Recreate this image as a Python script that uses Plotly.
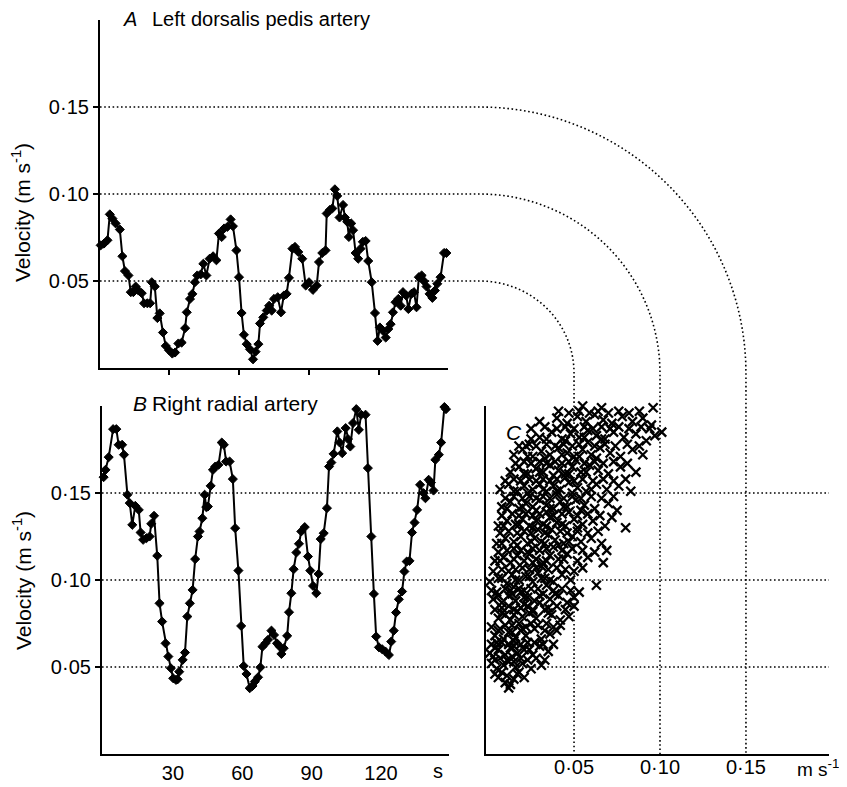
import numpy as np
import plotly.graph_objects as go

W, H = 847, 787

# ---------------- data ----------------
time_a = [0.7, 2.1, 3.6, 4.6, 5.7, 7.1, 8.9, 10.0, 11.1, 12.6,
          13.6, 14.7, 15.7, 16.9, 18.3, 19.3, 20.7, 21.9, 22.6, 23.9,
          25.0, 26.0, 27.4, 28.6, 30.0, 31.4, 32.6, 34.0, 35.4, 36.9,
          37.6, 39.0, 40.0, 41.1, 42.1, 43.6, 44.7, 46.0, 47.4, 48.9,
          50.3, 51.4, 52.6, 53.6, 55.0, 56.4, 57.4, 58.9, 60.0, 61.1,
          62.1, 63.3, 64.7, 66.0, 67.1, 68.3, 69.0, 70.4, 71.9, 72.9,
          74.0, 75.0, 76.6, 78.0, 79.2, 80.4, 81.4, 82.9, 84.0, 85.4,
          87.1, 88.6, 90.0, 91.7, 93.3, 94.3, 95.7, 97.1, 97.6, 98.9,
          100.0, 101.1, 102.1, 103.1, 104.6, 105.4, 106.4, 107.1, 108.1, 108.9,
          110.0, 111.1, 112.1, 113.1, 114.3, 115.4, 116.9, 118.3, 119.4, 120.4,
          121.7, 122.9, 124.0, 125.0, 126.0, 127.1, 128.3, 129.3, 130.3, 131.7,
          132.6, 133.9, 135.0, 136.1, 137.1, 138.3, 139.3, 140.4, 141.7, 142.9,
          144.0, 145.0, 146.4, 147.9, 148.9]
vel_a = [0.0705, 0.0715, 0.0734, 0.0883, 0.0859, 0.0831, 0.0796, 0.0642, 0.0557, 0.0532,
         0.0436, 0.0436, 0.0468, 0.0445, 0.0430, 0.0372, 0.0372, 0.0372, 0.0493, 0.0468,
         0.0287, 0.0314, 0.0204, 0.0127, 0.0102, 0.0083, 0.0089, 0.0141, 0.0146, 0.0229,
         0.0320, 0.0397, 0.0426, 0.0493, 0.0532, 0.0538, 0.0599, 0.0532, 0.0628, 0.0642,
         0.0619, 0.0773, 0.0753, 0.0802, 0.0811, 0.0854, 0.0815, 0.0676, 0.0522, 0.0316,
         0.0191, 0.0137, 0.0108, 0.0050, 0.0094, 0.0137, 0.0256, 0.0291, 0.0330, 0.0358,
         0.0330, 0.0397, 0.0407, 0.0320, 0.0416, 0.0426, 0.0518, 0.0686, 0.0696, 0.0667,
         0.0628, 0.0474, 0.0493, 0.0449, 0.0474, 0.0609, 0.0661, 0.0676, 0.0888, 0.0908,
         0.0917, 0.1027, 0.0989, 0.0865, 0.0937, 0.0865, 0.0840, 0.0753, 0.0831, 0.0792,
         0.0661, 0.0628, 0.0686, 0.0725, 0.0730, 0.0615, 0.0493, 0.0316, 0.0156, 0.0233,
         0.0214, 0.0175, 0.0224, 0.0252, 0.0320, 0.0378, 0.0397, 0.0358, 0.0436, 0.0416,
         0.0339, 0.0426, 0.0436, 0.0349, 0.0522, 0.0532, 0.0499, 0.0468, 0.0426, 0.0403,
         0.0445, 0.0484, 0.0522, 0.0661, 0.0661]

time_b = [0.0, 0.8, 2.2, 4.1, 5.5, 6.5, 8.0, 8.8, 10.3, 11.3,
          12.4, 13.7, 15.2, 16.0, 17.1, 18.5, 19.9, 20.6, 21.8, 23.2,
          24.2, 25.3, 26.8, 28.0, 29.1, 30.1, 31.3, 32.0, 32.7, 34.2,
          35.2, 36.2, 37.3, 38.5, 39.6, 40.8, 41.5, 42.7, 43.7, 44.4,
          45.1, 46.3, 47.3, 48.3, 49.7, 51.1, 52.0, 53.0, 54.5, 55.9,
          56.9, 58.3, 59.5, 60.6, 61.8, 63.2, 64.4, 65.4, 66.8, 67.8,
          68.7, 70.0, 71.1, 72.6, 73.7, 75.0, 76.2, 76.9, 77.9, 79.4,
          80.2, 81.2, 82.2, 83.4, 84.5, 85.5, 87.0, 88.4, 89.4, 90.6,
          92.0, 93.0, 93.9, 95.2, 96.6, 97.5, 98.5, 99.5, 101.1, 102.1,
          103.2, 104.7, 105.7, 106.7, 107.9, 109.3, 110.4, 111.4, 113.3, 114.3,
          115.8, 116.9, 117.9, 119.1, 120.5, 121.9, 123.4, 124.4, 125.5, 126.5,
          127.7, 129.1, 130.1, 131.1, 132.3, 133.4, 134.5, 135.6, 136.9, 138.4,
          139.2, 140.6, 141.6, 142.7, 143.5, 145.0, 146.0, 147.4, 148.1]
vel_b = [0.1591, 0.1633, 0.1706, 0.1867, 0.1867, 0.1777, 0.1777, 0.1720, 0.1490, 0.1442,
         0.1317, 0.1426, 0.1403, 0.1273, 0.1231, 0.1240, 0.1250, 0.1323, 0.1369, 0.1139,
         0.0866, 0.0761, 0.0636, 0.0560, 0.0493, 0.0435, 0.0426, 0.0429, 0.0473, 0.0541,
         0.0583, 0.0790, 0.0866, 0.0943, 0.1120, 0.1250, 0.1279, 0.1355, 0.1490, 0.1419,
         0.1422, 0.1541, 0.1633, 0.1652, 0.1662, 0.1790, 0.1777, 0.1681, 0.1681, 0.1580,
         0.1298, 0.1054, 0.0736, 0.0506, 0.0460, 0.0378, 0.0391, 0.0416, 0.0441, 0.0498,
         0.0617, 0.0636, 0.0656, 0.0709, 0.0684, 0.0636, 0.0617, 0.0575, 0.0608, 0.0679,
         0.0815, 0.0924, 0.1062, 0.1158, 0.1208, 0.1279, 0.1304, 0.1135, 0.1054, 0.0966,
         0.0924, 0.1035, 0.1235, 0.1269, 0.1413, 0.1652, 0.1675, 0.1725, 0.1854, 0.1790,
         0.1729, 0.1873, 0.1810, 0.1767, 0.1902, 0.1982, 0.1863, 0.1950, 0.1950, 0.1643,
         0.1250, 0.0920, 0.0675, 0.0613, 0.0602, 0.0589, 0.0569, 0.0646, 0.0709, 0.0813,
         0.0889, 0.0934, 0.1049, 0.1106, 0.1110, 0.1273, 0.1330, 0.1403, 0.1547, 0.1499,
         0.1470, 0.1576, 0.1560, 0.1514, 0.1691, 0.1720, 0.1790, 0.1994, 0.1982]

# scatter C: dorsalis pedis velocity (x) against radial velocity (y), read row by row
scatter_x = [0.010, 0.013, 0.006, 0.015, 0.008,
             0.002, 0.005, 0.009, 0.012, 0.016, 0.020, 0.025, 0.031, 0.003, 0.014, 0.018,
             0.001, 0.006, 0.010, 0.013, 0.017, 0.021, 0.026, 0.030, 0.035, 0.008, 0.023,
             0.004, 0.009, 0.012, 0.016, 0.019, 0.022, 0.027, 0.031, 0.036, 0.040, 0.014, 0.025,
             0.006, 0.010, 0.013, 0.017, 0.020, 0.024, 0.028, 0.033, 0.037, 0.042, 0.047, 0.021, 0.030,
             0.003, 0.008, 0.012, 0.016, 0.019, 0.023, 0.027, 0.032, 0.036, 0.041, 0.046, 0.050, 0.015, 0.025, 0.034,
             0.001, 0.006, 0.011, 0.014, 0.018, 0.022, 0.026, 0.029, 0.033, 0.038, 0.043, 0.048, 0.063, 0.020, 0.031, 0.040,
             0.004, 0.009, 0.013, 0.017, 0.021, 0.024, 0.028, 0.032, 0.036, 0.041, 0.046, 0.052, 0.058, 0.067, 0.069, 0.026, 0.038,
             0.005, 0.010, 0.015, 0.019, 0.023, 0.027, 0.031, 0.035, 0.039, 0.044, 0.049, 0.054, 0.060, 0.066, 0.029, 0.042,
             0.006, 0.011, 0.016, 0.020, 0.024, 0.028, 0.032, 0.036, 0.040, 0.045, 0.050, 0.055, 0.061, 0.068, 0.080, 0.034, 0.047,
             0.008, 0.013, 0.018, 0.022, 0.026, 0.030, 0.034, 0.038, 0.042, 0.046, 0.051, 0.056, 0.062, 0.070, 0.075, 0.040,
             0.007, 0.012, 0.017, 0.021, 0.026, 0.030, 0.034, 0.038, 0.042, 0.047, 0.052, 0.057, 0.063, 0.069, 0.076, 0.083, 0.045,
             0.013, 0.018, 0.023, 0.028, 0.032, 0.036, 0.041, 0.045, 0.049, 0.054, 0.059, 0.064, 0.070, 0.077, 0.086, 0.051,
             0.015, 0.020, 0.026, 0.031, 0.036, 0.041, 0.046, 0.050, 0.055, 0.060, 0.065, 0.071, 0.077, 0.084, 0.090, 0.058,
             0.025, 0.022, 0.030, 0.037, 0.043, 0.048, 0.053, 0.058, 0.063, 0.068, 0.073, 0.079, 0.086, 0.092, 0.097, 0.101,
             0.030, 0.040, 0.046, 0.052, 0.057, 0.062, 0.067, 0.072, 0.078, 0.084, 0.090, 0.095,
             0.044, 0.050, 0.055, 0.060, 0.066, 0.072, 0.079, 0.085, 0.090, 0.096,
             0.046, 0.052, 0.058, 0.063, 0.068, 0.075,
             # second pass, rows in between
             0.004, 0.011, 0.017, 0.021, 0.012,
             0.004, 0.007, 0.011, 0.015, 0.019, 0.023, 0.028, 0.033,
             0.002, 0.005, 0.012, 0.015, 0.019, 0.027, 0.032, 0.038,
             0.002, 0.007, 0.010, 0.018, 0.022, 0.029, 0.034, 0.038, 0.042,
             0.004, 0.008, 0.012, 0.015, 0.019, 0.023, 0.026, 0.035, 0.040, 0.045, 0.050,
             0.002, 0.005, 0.010, 0.013, 0.018, 0.021, 0.029, 0.038, 0.043, 0.048, 0.053,
             0.003, 0.008, 0.012, 0.016, 0.024, 0.028, 0.035, 0.045, 0.050, 0.055,
             0.006, 0.011, 0.015, 0.019, 0.023, 0.030, 0.034, 0.043, 0.049, 0.055, 0.062,
             0.007, 0.012, 0.017, 0.021, 0.025, 0.033, 0.037, 0.046, 0.052, 0.058, 0.064,
             0.008, 0.014, 0.018, 0.022, 0.026, 0.030, 0.038, 0.043, 0.052, 0.058, 0.065, 0.072,
             0.010, 0.015, 0.020, 0.024, 0.028, 0.032, 0.036, 0.044, 0.049, 0.054, 0.060, 0.066, 0.073,
             0.010, 0.015, 0.019, 0.024, 0.028, 0.032, 0.036, 0.040, 0.050, 0.055, 0.061, 0.067, 0.073, 0.080,
             0.016, 0.021, 0.025, 0.030, 0.034, 0.039, 0.043, 0.047, 0.056, 0.062, 0.067, 0.073, 0.081,
             0.018, 0.024, 0.028, 0.034, 0.039, 0.044, 0.049, 0.053, 0.062, 0.068, 0.074, 0.081, 0.088,
             0.025, 0.033, 0.040, 0.045, 0.050, 0.056, 0.061, 0.066, 0.071, 0.076, 0.082, 0.089, 0.094,
             0.041, 0.047, 0.053, 0.059, 0.064, 0.070, 0.076, 0.082, 0.088,
             0.048, 0.054, 0.061, 0.071, 0.083,
             # third pass, dense core of the cloud
             0.004, 0.015, 0.024,
             0.006, 0.014, 0.020, 0.033,
             0.008, 0.015, 0.026, 0.035,
             0.006, 0.014, 0.021, 0.030, 0.039,
             0.008, 0.016, 0.024, 0.031, 0.036,
             0.007, 0.015, 0.026, 0.034, 0.044,
             0.008, 0.017, 0.025, 0.033, 0.041, 0.047,
             0.009, 0.018, 0.026, 0.034, 0.043, 0.052,
             0.011, 0.020, 0.028, 0.036, 0.044, 0.054,
             0.015, 0.023, 0.032, 0.040, 0.049, 0.060,
             0.021, 0.030, 0.038, 0.047, 0.057,
             0.023, 0.033, 0.043, 0.053, 0.063,
             0.034, 0.045, 0.056, 0.066]
scatter_y = [0.041, 0.040, 0.044, 0.043, 0.047,
             0.052, 0.049, 0.051, 0.053, 0.050, 0.052, 0.049, 0.051, 0.056, 0.056, 0.047,
             0.058, 0.060, 0.057, 0.061, 0.058, 0.060, 0.057, 0.062, 0.059, 0.064, 0.064,
             0.068, 0.066, 0.070, 0.067, 0.071, 0.068, 0.072, 0.066, 0.069, 0.071, 0.074, 0.075,
             0.078, 0.080, 0.077, 0.082, 0.079, 0.081, 0.078, 0.083, 0.080, 0.077, 0.079, 0.086, 0.087,
             0.089, 0.087, 0.091, 0.088, 0.093, 0.090, 0.088, 0.092, 0.089, 0.091, 0.087, 0.090, 0.096, 0.095, 0.097,
             0.099, 0.101, 0.098, 0.103, 0.100, 0.102, 0.099, 0.104, 0.101, 0.099, 0.103, 0.100, 0.097, 0.107, 0.108, 0.107,
             0.111, 0.113, 0.110, 0.114, 0.111, 0.115, 0.112, 0.110, 0.114, 0.112, 0.115, 0.111, 0.113, 0.110, 0.117, 0.118, 0.119,
             0.121, 0.124, 0.122, 0.125, 0.121, 0.124, 0.122, 0.126, 0.123, 0.121, 0.125, 0.122, 0.124, 0.121, 0.129, 0.128,
             0.131, 0.134, 0.132, 0.135, 0.131, 0.134, 0.132, 0.136, 0.133, 0.131, 0.135, 0.132, 0.134, 0.131, 0.130, 0.139, 0.139,
             0.142, 0.145, 0.141, 0.144, 0.142, 0.146, 0.143, 0.141, 0.145, 0.142, 0.146, 0.143, 0.141, 0.144, 0.140, 0.149,
             0.152, 0.155, 0.151, 0.154, 0.152, 0.155, 0.151, 0.154, 0.152, 0.156, 0.153, 0.151, 0.155, 0.152, 0.154, 0.151, 0.159,
             0.162, 0.165, 0.161, 0.164, 0.162, 0.166, 0.163, 0.161, 0.165, 0.162, 0.166, 0.163, 0.161, 0.165, 0.162, 0.169,
             0.172, 0.175, 0.171, 0.174, 0.172, 0.176, 0.173, 0.171, 0.175, 0.172, 0.176, 0.173, 0.171, 0.175, 0.172, 0.179,
             0.181, 0.177, 0.182, 0.185, 0.181, 0.184, 0.182, 0.186, 0.183, 0.181, 0.185, 0.182, 0.184, 0.180, 0.183, 0.185,
             0.191, 0.193, 0.190, 0.194, 0.191, 0.195, 0.192, 0.190, 0.194, 0.191, 0.193, 0.189,
             0.201, 0.204, 0.200, 0.203, 0.199, 0.202, 0.205, 0.201, 0.204, 0.199,
             0.208, 0.211, 0.209, 0.213, 0.210, 0.207,
             # second pass, rows in between
             0.046, 0.045, 0.046, 0.044, 0.038,
             0.054, 0.055, 0.054, 0.053, 0.055, 0.054, 0.055, 0.054,
             0.063, 0.064, 0.063, 0.065, 0.063, 0.064, 0.063, 0.063,
             0.073, 0.072, 0.074, 0.075, 0.073, 0.074, 0.075, 0.073, 0.074,
             0.083, 0.084, 0.085, 0.083, 0.084, 0.085, 0.083, 0.084, 0.085, 0.083, 0.085,
             0.094, 0.093, 0.095, 0.094, 0.095, 0.094, 0.095, 0.094, 0.095, 0.094, 0.093,
             0.105, 0.106, 0.105, 0.106, 0.106, 0.107, 0.106, 0.106, 0.105, 0.107,
             0.116, 0.117, 0.118, 0.117, 0.116, 0.117, 0.118, 0.117, 0.118, 0.117, 0.116,
             0.127, 0.128, 0.127, 0.128, 0.127, 0.127, 0.129, 0.127, 0.128, 0.127, 0.128,
             0.137, 0.138, 0.137, 0.138, 0.137, 0.138, 0.137, 0.138, 0.137, 0.138, 0.137, 0.136,
             0.147, 0.148, 0.147, 0.148, 0.147, 0.148, 0.147, 0.147, 0.148, 0.147, 0.148, 0.147, 0.148,
             0.157, 0.158, 0.157, 0.158, 0.157, 0.158, 0.157, 0.158, 0.157, 0.158, 0.157, 0.158, 0.157, 0.158,
             0.167, 0.168, 0.167, 0.168, 0.167, 0.168, 0.167, 0.168, 0.167, 0.168, 0.167, 0.168, 0.167,
             0.177, 0.178, 0.177, 0.178, 0.177, 0.178, 0.177, 0.178, 0.177, 0.178, 0.177, 0.178, 0.177,
             0.187, 0.188, 0.187, 0.188, 0.187, 0.188, 0.187, 0.188, 0.187, 0.188, 0.187, 0.188, 0.187,
             0.197, 0.196, 0.197, 0.196, 0.197, 0.196, 0.197, 0.196, 0.197,
             0.206, 0.207, 0.206, 0.206, 0.207,
             # third pass, dense core of the cloud
             0.061, 0.062, 0.060,
             0.071, 0.070, 0.072, 0.071,
             0.081, 0.080, 0.082, 0.081,
             0.091, 0.092, 0.090, 0.091, 0.092,
             0.101, 0.100, 0.102, 0.101, 0.100,
             0.111, 0.112, 0.110, 0.111, 0.112,
             0.121, 0.120, 0.122, 0.121, 0.120, 0.122,
             0.131, 0.132, 0.130, 0.131, 0.132, 0.130,
             0.141, 0.142, 0.140, 0.141, 0.142, 0.140,
             0.151, 0.150, 0.152, 0.151, 0.150, 0.152,
             0.161, 0.162, 0.160, 0.161, 0.162,
             0.171, 0.170, 0.172, 0.171, 0.170,
             0.181, 0.180, 0.182, 0.181]

grid_levels = [0.05, 0.10, 0.15]
vel_tick_text = ["0·05", "0·10", "0·15"]
time_ticks = [30, 60, 90, 120]
time_tick_text = ["30", "60", "90", "120"]

# ---------------- layout geometry (page pixels) ----------------
OFF = 8                      # page body margin of the html document
FW, FH = W - OFF, H - OFF    # figure size so that it ends at the window edge
A_L, A_R, A_T, A_B = 100, 448, 20, 368
B_L, B_R, B_T, B_B = 102, 449, 406, 754
C_L, C_R, C_T, C_B = 486, 829, 406, 754
A_XR = [0.4, 149.6]
B_XR = [-0.7, 149.4]
C_XR = [-0.0012, 0.1983]
V_R = [0, 0.2]
ARC_CX, ARC_CY = 480, 373


def px(x):
    return (x - OFF) / FW


def py(y):
    return 1 - (y - OFF) / FH


def lin(v, lo, hi, p0, p1):
    return p0 + (v - lo) / (hi - lo) * (p1 - p0)


FONT = "Liberation Sans, Arial, Helvetica, sans-serif"
BLACK = "#000000"

fig = go.Figure()

series_marker = dict(symbol="diamond", size=7, color=BLACK, line=dict(width=1, color=BLACK))
fig.add_trace(go.Scatter(
    x=time_a, y=vel_a, mode="lines+markers", xaxis="x", yaxis="y",
    line=dict(color=BLACK, width=2), marker=series_marker,
    showlegend=False, cliponaxis=False))
fig.add_trace(go.Scatter(
    x=time_b, y=vel_b, mode="lines+markers", xaxis="x2", yaxis="y2",
    line=dict(color=BLACK, width=2), marker=series_marker,
    showlegend=False, cliponaxis=False))
fig.add_trace(go.Scatter(
    x=scatter_x, y=scatter_y, mode="markers", xaxis="x3", yaxis="y3",
    marker=dict(symbol="x-thin", size=9, color=BLACK, line=dict(width=2.3, color=BLACK)),
    showlegend=False, cliponaxis=False))

DOT = dict(color=BLACK, width=1.6, dash="1.6px,2.6px")
shapes = []
for v in grid_levels:
    # A horizontal -> quarter arc -> C vertical
    ya = lin(v, V_R[0], V_R[1], A_B, A_T)
    xc = lin(v, C_XR[0], C_XR[1], C_L, C_R)
    rx, ry = xc - ARC_CX, ARC_CY - ya
    pts = [(A_L, ya), (ARC_CX, ya)]
    for th in np.linspace(np.pi / 2, 0, 40):
        pts.append((ARC_CX + rx * np.cos(th), ARC_CY - ry * np.sin(th)))
    pts.append((xc, C_B))
    path = "M " + " L ".join(f"{px(x):.5f},{py(y):.5f}" for x, y in pts)
    shapes.append(dict(type="path", path=path, xref="paper", yref="paper",
                       line=DOT, layer="below"))
    # B / C horizontal
    yb = lin(v, V_R[0], V_R[1], B_B, B_T)
    shapes.append(dict(type="line", xref="paper", yref="paper",
                       x0=px(B_L), x1=px(C_R), y0=py(yb), y1=py(yb),
                       line=DOT, layer="below"))

common_axis = dict(showline=True, linecolor=BLACK, linewidth=2.2, showgrid=False,
                   zeroline=False, fixedrange=True,
                   tickfont=dict(family=FONT, size=20, color=BLACK))

fig.update_layout(
    width=FW, height=FH, margin=dict(l=0, r=0, t=0, b=0),
    paper_bgcolor="white", plot_bgcolor="rgba(0,0,0,0)",
    showlegend=False, shapes=shapes,
    xaxis=dict(common_axis, domain=[px(A_L), px(A_R)], range=A_XR, anchor="y",
               tickvals=time_ticks, ticks="outside", ticklen=5, tickwidth=1.5,
               tickcolor=BLACK, showticklabels=False),
    yaxis=dict(common_axis, domain=[py(A_B), py(A_T)], range=V_R, anchor="x",
               tickvals=grid_levels, ticktext=vel_tick_text, ticks="outside",
               ticklen=5, tickwidth=1.5, tickcolor=BLACK, ticklabelstandoff=0),
    xaxis2=dict(common_axis, domain=[px(B_L), px(B_R)], range=B_XR, anchor="y2",
                tickvals=time_ticks, ticktext=time_tick_text, ticks="",
                ticklabelstandoff=0),
    yaxis2=dict(common_axis, domain=[py(B_B), py(B_T)], range=V_R, anchor="x2",
                tickvals=grid_levels, ticktext=vel_tick_text, ticks="outside",
                ticklen=5, tickwidth=1.5, tickcolor=BLACK, ticklabelstandoff=0),
    xaxis3=dict(common_axis, domain=[px(C_L), px(C_R)], range=C_XR, anchor="y3",
                tickvals=grid_levels, ticktext=vel_tick_text, ticks="",
                ticklabelstandoff=-6),
    yaxis3=dict(common_axis, domain=[py(C_B), py(C_T)], range=V_R, anchor="x3",
                showticklabels=False, ticks=""),
)


def note(text, x, y, xanchor="left", size=21, angle=0):
    fig.add_annotation(text=text, x=px(x), y=py(y), xref="paper", yref="paper",
                       xanchor=xanchor, yanchor="middle", showarrow=False,
                       textangle=angle, borderpad=0,
                       font=dict(family=FONT, size=size, color=BLACK))


note("<i>A</i>", 122, 19, size=20)
note("Left dorsalis pedis artery", 151, 19, size=20)
note("<i>B</i>", 132, 403)
note("Right radial artery", 151, 403)
note("<i>C</i>", 514, 432, xanchor="center")
note("Velocity (m s<sup>-1</sup>)", 21, 213, xanchor="center", size=21, angle=-90)
note("Velocity (m s<sup>-1</sup>)", 22, 581, xanchor="center", size=21, angle=-90)
note("s", 438, 771, xanchor="center", size=20)
note("m s<sup>-1</sup>", 796, 768, size=19)

fig.write_html("out.html")
